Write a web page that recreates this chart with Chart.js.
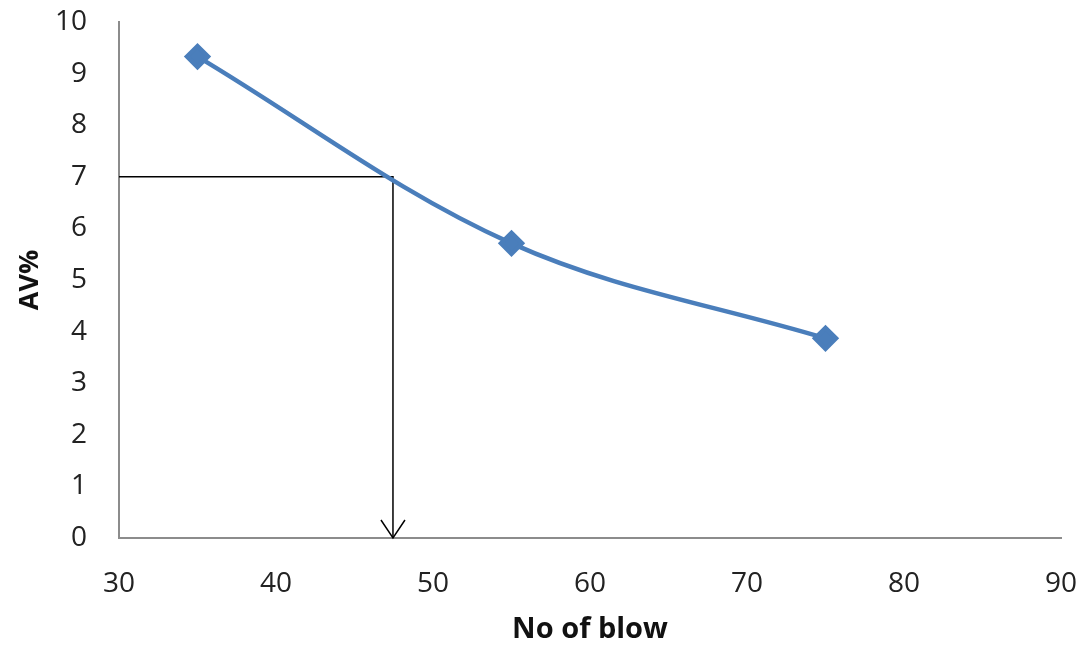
<!DOCTYPE html>
<html>
<head>
<meta charset="utf-8">
<script src="https://cdn.jsdelivr.net/npm/chart.js@4.4.1/dist/chart.umd.min.js"></script>
<style>
  html, body { margin: 0; padding: 0; background: #fff; }
  #wrap { width: 1083px; height: 646px; }
</style>
</head>
<body>
<div id="wrap"><canvas id="avChart"></canvas></div>
<script>
// data
const blows = [35, 55, 75];
const avValues = [9.33, 5.71, 3.87];
const refX = [30, 47.45, 47.45];
const refY = [7, 7, 0];

// arrow head at the end of the guide line
const arrowHead = {
    id: 'arrowHead',
    afterDatasetsDraw(chart) {
        const xs = chart.scales.x, ys = chart.scales.y;
        const n = refX.length - 1;
        const tx = xs.getPixelForValue(refX[n]);
        const ty = ys.getPixelForValue(refY[n]);
        const c = chart.ctx;
        c.save();
        c.strokeStyle = '#000';
        c.lineWidth = 1.5;
        c.beginPath();
        c.moveTo(tx - 12, ty - 18);
        c.lineTo(tx, ty);
        c.lineTo(tx + 12, ty - 18);
        c.stroke();
        c.restore();
    }
};

document.addEventListener('DOMContentLoaded', function() {
    const ctx = document.getElementById('avChart').getContext('2d');
    new Chart(ctx, {
        type: 'scatter',
        data: {
            datasets: [{
                label: 'AV%',
                data: blows.map((b, i) => ({ x: b, y: avValues[i] })),
                showLine: true,
                borderColor: '#4a7ebb',
                backgroundColor: '#4a7ebb',
                borderWidth: 4.5,
                tension: 0.35,
                pointStyle: 'rectRot',
                pointRadius: 10.5,
                pointHoverRadius: 10.5,
                order: 1
            }, {
                label: 'guide',
                data: refX.map((x, i) => ({ x: x, y: refY[i] })),
                showLine: true,
                borderColor: '#000',
                borderWidth: 1.5,
                pointRadius: 0,
                tension: 0,
                order: 2
            }]
        },
        options: {
            responsive: true,
            maintainAspectRatio: false,
            animation: false,
            layout: { padding: { top: 22, right: 22, left: 0, bottom: 0 } },
            plugins: {
                legend: { display: false },
                tooltip: { enabled: false }
            },
            scales: {
                x: {
                    type: 'linear',
                    min: 30,
                    max: 90,
                    afterFit: function(scale) {
                        scale.height = 108;
                        scale.paddingLeft = 0;
                        scale.paddingRight = 0;
                    },
                    ticks: {
                        stepSize: 10,
                        color: '#222',
                        padding: 21,
                        font: { family: 'Open Sans', size: 28 }
                    },
                    grid: { display: false },
                    border: { display: true, color: '#8c8c8c', width: 2 },
                    title: {
                        display: true,
                        text: 'No of blow',
                        color: '#111',
                        padding: { top: 0, bottom: 0 },
                        font: { family: 'Open Sans', size: 29, weight: 'bold', lineHeight: 1.1 }
                    }
                },
                y: {
                    min: 0,
                    max: 10,
                    afterFit: function(scale) {
                        scale.width = 119;
                        scale.paddingTop = 0;
                        scale.paddingBottom = 0;
                    },
                    ticks: {
                        stepSize: 1,
                        color: '#222',
                        padding: 24,
                        font: { family: 'Open Sans', size: 28 }
                    },
                    grid: { display: false },
                    border: { display: true, color: '#8c8c8c', width: 2 },
                    title: {
                        display: true,
                        text: 'AV%',
                        color: '#111',
                        padding: { top: 15, bottom: 0 },
                        font: { family: 'Open Sans', size: 27, weight: 'bold', lineHeight: 1.1 }
                    }
                }
            }
        },
        plugins: [arrowHead]
    });
});
</script>
</body>
</html>
